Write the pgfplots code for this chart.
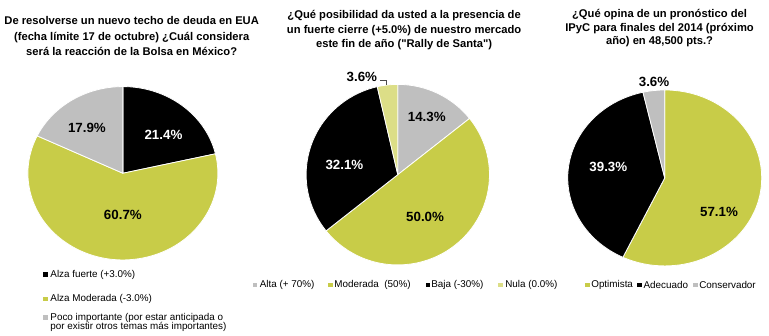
\documentclass[border=0pt]{standalone}
\usepackage{pgfplots}
\pgfplotsset{compat=1.18}
\usepackage{fontspec}
\setmainfont{Liberation Sans}
\definecolor{pgreen}{RGB}{200,204,72}
\definecolor{pgray}{RGB}{191,191,191}
\definecolor{plight}{RGB}{220,222,135}

% #1 cx, #2 cy, #3 rx, #4 ry (px units), #5 list value/colour
\newcommand\pieslices[5]{%
 \pgfplotsextra{%
  \gdef\pacc{0}%
  \foreach \v/\c in {#5} {%
   \pgfmathsetmacro\pa{90-3.6*\pacc}%
   \pgfmathsetmacro\pb{90-3.6*(\pacc+\v)}%
   \fill[\c, draw=white, line width=0.6pt, line join=round]
     (axis cs:#1,#2) -- (axis cs:{#1+#3*cos(\pa)},{#2+#4*sin(\pa)})
     arc[start angle=\pa, end angle=\pb, x radius=#3*0.75pt, y radius=#4*0.75pt] -- cycle;
   \pgfmathsetmacro\pn{\pacc+\v}\xdef\pacc{\pn}%
  }}}

\begin{document}
\begin{tikzpicture}
\begin{axis}[hide axis, scale only axis, clip=false,
  width=576.75pt, height=252pt, xmin=0, xmax=769, ymin=0, ymax=336]
\path (axis cs:0,0) rectangle (axis cs:769,336);

\pieslices{122.7}{162.7}{95}{86.7}{21.4/black, 60.7/pgreen, 17.9/pgray}
\pieslices{397.7}{161.3}{91.7}{90.3}{14.3/pgray, 50.0/pgreen, 32.1/black, 3.6/plight}
\pieslices{664.7}{158}{97}{88}{57.1/pgreen, 39.3/black, 3.6/pgray}

% titles
\node[align=center, font=\bfseries\fontsize{8.4}{11.6}\selectfont] at (axis cs:131.5,299.6)
  {De resolverse un nuevo techo de deuda en EUA\\(fecha límite 17 de octubre) ¿Cuál considera\\será la reacción de la Bolsa en México?};
\node[align=center, font=\bfseries\fontsize{8.4}{11}\selectfont] at (axis cs:404,305.8)
  {¿Qué posibilidad da usted a la presencia de\\un fuerte cierre (+5.0\%) de nuestro mercado\\este fin de año (\textquotedbl Rally de Santa\textquotedbl)};
\node[align=center, font=\bfseries\fontsize{8.4}{10}\selectfont] at (axis cs:659.5,307.7)
  {¿Qué opina de un pronóstico del\\IPyC para finales del 2014 (próximo\\año) en 48,500 pts.?};

% percentage labels
\begin{scope}[every node/.style={font=\bfseries\fontsize{10}{12}\selectfont, inner sep=0pt}]
\node[white] at (axis cs:163.3,201) {21.4\%};
\node at (axis cs:86.7,207.7) {17.9\%};
\node at (axis cs:122.7,121) {60.7\%};
\node at (axis cs:426.7,218.7) {14.3\%};
\node[white] at (axis cs:344.3,171) {32.1\%};
\node at (axis cs:425,119.3) {50.0\%};
\node at (axis cs:361.7,259.3) {3.6\%};
\node at (axis cs:654,254.3) {3.6\%};
\node[white] at (axis cs:608.3,169.3) {39.3\%};
\node at (axis cs:719,124.3) {57.1\%};
\end{scope}
\draw[line width=0.4pt, black!70] (axis cs:380,255.3) -- (axis cs:386,255.3) -- (axis cs:386,251);

% legends
\begin{scope}[every node/.style={font=\fontsize{7.4}{8.5}\selectfont, inner sep=0pt, anchor=west}]
\fill[black] (axis cs:43,59) rectangle (axis cs:47.5,63.5);
\node at (axis cs:50,61) {Alza fuerte (+3.0\%)};
\fill[pgreen] (axis cs:43,34.5) rectangle (axis cs:47.5,39);
\node at (axis cs:50,36.7) {Alza Moderada (-3.0\%)};
\fill[pgray] (axis cs:43,16) rectangle (axis cs:47.5,20.5);
\node at (axis cs:50,18.3) {Poco importante (por estar anticipada o};
\node at (axis cs:50,8.7) {por existir otros temas más importantes)};

\fill[pgray] (axis cs:252.5,48.8) rectangle (axis cs:257,53.3);
\node at (axis cs:259.5,51) {Alta (+ 70\%)};
\fill[pgreen] (axis cs:328,48.8) rectangle (axis cs:332.5,53.3);
\node at (axis cs:334,51) {Moderada\ \ (50\%)};
\fill[black] (axis cs:425.5,48.8) rectangle (axis cs:430,53.3);
\node at (axis cs:431,51) {Baja (-30\%)};
\fill[plight] (axis cs:498,48.8) rectangle (axis cs:502.5,53.3);
\node at (axis cs:505,51) {Nula (0.0\%)};

\fill[pgreen] (axis cs:585,48.8) rectangle (axis cs:589.5,53.3);
\node at (axis cs:591,51) {Optimista};
\fill[black] (axis cs:637.3,48.8) rectangle (axis cs:641.8,53.3);
\node at (axis cs:643.3,51) {Adecuado};
\fill[pgray] (axis cs:693.3,48.8) rectangle (axis cs:697.8,53.3);
\node at (axis cs:699,51) {Conservador};
\end{scope}
\end{axis}
\end{tikzpicture}
\end{document}
